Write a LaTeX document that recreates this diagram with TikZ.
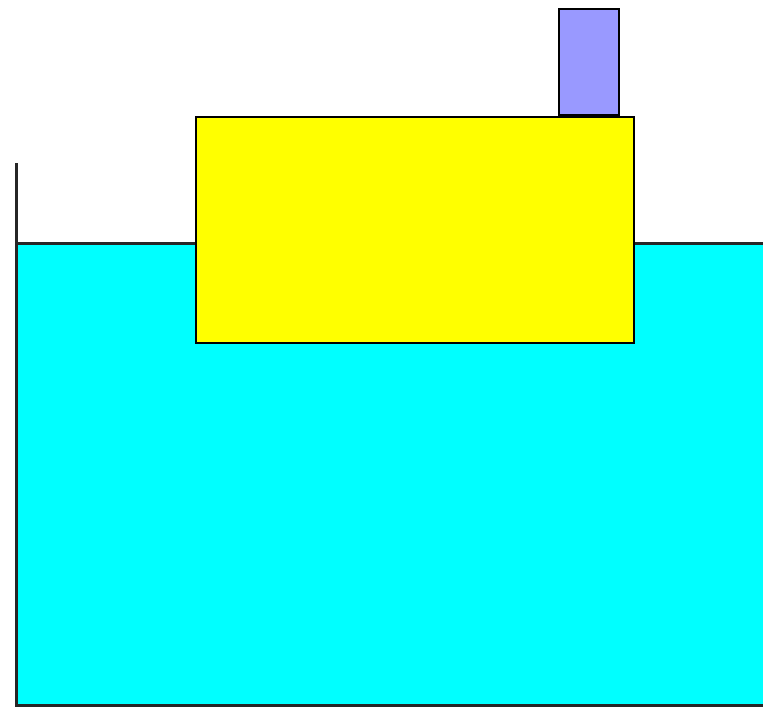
\documentclass[tikz,border=0pt]{standalone}
\definecolor{watercol}{RGB}{0,255,255}
\definecolor{bodycol}{RGB}{255,255,0}
\definecolor{chimcol}{RGB}{153,153,255}
\begin{document}
\begin{tikzpicture}[x=1pt,y=-1pt,
  wall/.style={line width=3pt,draw=black!85},
  block/.style={draw=black,line width=2pt}]
\useasboundingbox (0,0) rectangle (763,709);
\fill[white] (0,0) rectangle (763,709);
% water
\fill[watercol] (16,243) rectangle (763,705);
\draw[wall] (763,243) -- (16,243);
\draw[wall] (16,163) -- (16,705) -- (763,705);
% blocks
\node[block,fill=bodycol,minimum width=438pt,minimum height=226pt,inner sep=0pt,anchor=north west] (body) at (195,116) {};
\node[block,fill=chimcol,minimum width=60pt,minimum height=106pt,inner sep=0pt,anchor=south west] (chimney) at (558,116) {};
\end{tikzpicture}
\end{document}
